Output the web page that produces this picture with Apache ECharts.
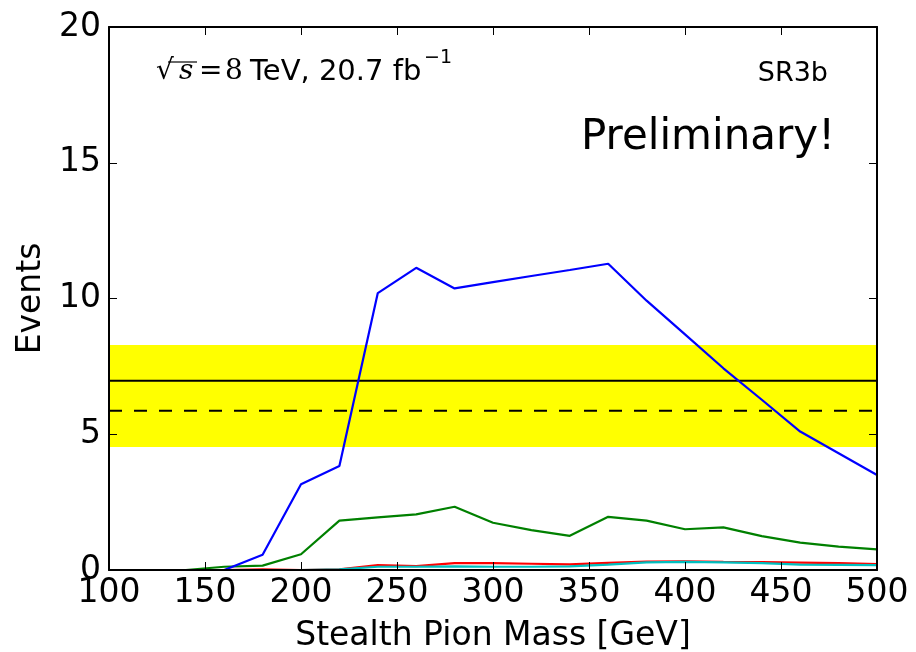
<!DOCTYPE html>
<html>
<head>
<meta charset="utf-8">
<script src="https://cdn.jsdelivr.net/npm/echarts@6/dist/echarts.min.js"></script>
<style>
  html, body { margin: 0; padding: 0; background: #ffffff; }
  #chart { width: 916px; height: 652px; }
</style>
</head>
<body>
<div id="chart"></div>
<script>
// ---- data ----
const masses = [100,120,140,160,180,200,220,240,260,280,300,320,340,360,380,400,420,440,460,480,500];
const blueVals  = [0,0,0,0,0.56,3.16,3.83,10.2,11.13,10.37,10.6,10.83,11.05,11.28,9.92,8.68,7.43,6.27,5.1,4.3,3.5];
const greenVals = [0,0,0,0.12,0.16,0.58,1.82,1.94,2.05,2.33,1.74,1.47,1.26,1.96,1.82,1.5,1.57,1.25,1.01,0.86,0.76];
const redVals   = [0,0,0,0,0.02,0,0.02,0.18,0.14,0.25,0.25,0.23,0.21,0.26,0.31,0.32,0.3,0.29,0.27,0.25,0.22];
const cyanVals  = [0,0,0,0,0,0,0.02,0.12,0.12,0.13,0.12,0.12,0.13,0.2,0.28,0.3,0.28,0.25,0.2,0.19,0.18];
const observedLimit = 6.97;
const expectedLimit = 5.87;
const bandLow = 4.53;
const bandHigh = 8.29;
const xTicks = [100,150,200,250,300,350,400,450,500];
const yTicks = [0,5,10,15,20];
const xTitle = 'Stealth Pion Mass [GeV]';
const yTitle = 'Events';
const regionLabel = 'SR3b';
const statusLabel = 'Preliminary!';
const lumiText = 'TeV, 20.7 fb';

const xMin = xTicks[0], xMax = xTicks[xTicks.length - 1];
const yMin = yTicks[0], yMax = yTicks[yTicks.length - 1];
const pairs = vals => masses.map((m, i) => [m, vals[i]]);
const hline = v => [[xMin, v], [xMax, v]];

const FONT = 'DejaVu Sans';
const SERIF = 'DejaVu Serif';
const axisLine = { show: true, onZero: false, lineStyle: { color: '#000', width: 2 } };
const axisTick = { show: true, inside: true, length: 8, lineStyle: { color: '#000', width: 1 } };

const txt = (x, str, font, size, extra) => ({
  type: 'text', x: x, y: 72, z: 100,
  style: Object.assign({ text: str, fontFamily: font, fontSize: size, fill: '#000',
    textAlign: 'left', textVerticalAlign: 'middle' }, extra || {})
});

const chart = echarts.init(document.getElementById('chart'), null, { renderer: 'canvas' });
chart.setOption({
  animation: false,
  backgroundColor: '#ffffff',
  grid: { left: 109, right: 39, top: 27, bottom: 82, containLabel: false, outerBoundsMode: 'none' },
  xAxis: [
    {
      type: 'value', min: xMin, max: xMax, interval: 50, position: 'bottom', z: 10,
      name: xTitle, nameLocation: 'middle', nameGap: 50,
      nameTextStyle: { fontFamily: FONT, fontSize: 33, color: '#000' },
      axisLine, axisTick,
      axisLabel: { fontFamily: FONT, fontSize: 33, color: '#000', margin: 7 },
      splitLine: { show: false }
    },
    {
      type: 'value', min: xMin, max: xMax, interval: 50, position: 'top', z: 10,
      axisLine, axisTick, axisLabel: { show: false }, splitLine: { show: false }
    }
  ],
  yAxis: [
    {
      type: 'value', min: yMin, max: yMax, interval: 5, position: 'left', z: 10,
      name: yTitle, nameLocation: 'middle', nameGap: 59, nameRotate: 90,
      nameTextStyle: { fontFamily: FONT, fontSize: 33, color: '#000' },
      axisLine, axisTick,
      axisLabel: { fontFamily: FONT, fontSize: 33, color: '#000', margin: 8 },
      splitLine: { show: false }
    },
    {
      type: 'value', min: yMin, max: yMax, interval: 5, position: 'right', z: 10,
      axisLine, axisTick, axisLabel: { show: false }, splitLine: { show: false }
    }
  ],
  series: [
    {
      name: 'band', type: 'line', z: 1, showSymbol: false, silent: true,
      data: hline(bandLow), lineStyle: { opacity: 0 },
      markArea: {
        silent: true,
        itemStyle: { color: '#ffff00', opacity: 1 },
        data: [[{ yAxis: bandLow }, { yAxis: bandHigh }]]
      }
    },
    {
      name: 'observed', type: 'line', z: 3, showSymbol: false,
      data: hline(observedLimit), lineStyle: { color: '#000', width: 2 }
    },
    {
      name: 'expected', type: 'line', z: 3, showSymbol: false,
      data: hline(expectedLimit), lineStyle: { color: '#000', width: 2, type: [13, 12] }
    },
    {
      name: 'green', type: 'line', z: 4, showSymbol: false,
      data: pairs(greenVals), lineStyle: { color: '#008000', width: 2.2 }
    },
    {
      name: 'red', type: 'line', z: 4, showSymbol: false,
      data: pairs(redVals), lineStyle: { color: '#ff0000', width: 2.2 }
    },
    {
      name: 'cyan', type: 'line', z: 5, showSymbol: false,
      data: pairs(cyanVals), lineStyle: { color: '#00bfbf', width: 2.2 }
    },
    {
      name: 'blue', type: 'line', z: 6, showSymbol: false,
      data: pairs(blueVals), lineStyle: { color: '#0000ff', width: 2.2 }
    }
  ],
  graphic: [
    txt(156, '√', SERIF, 28),
    {
      type: 'line', z: 100,
      shape: { x1: 168, y1: 62, x2: 197, y2: 62 },
      style: { stroke: '#000', lineWidth: 1.2 }
    },
    txt(179, 's', SERIF, 28, { fontStyle: 'italic' }),
    txt(199, '=', SERIF, 28),
    txt(225, '8', SERIF, 28),
    txt(250, lumiText, FONT, 29),
    {
      type: 'text', x: 424, y: 58, z: 100,
      style: { text: '−1', fontFamily: FONT, fontSize: 19, fill: '#000',
        textAlign: 'left', textVerticalAlign: 'middle' }
    },
    {
      type: 'text', right: 88, top: 60, z: 100,
      style: { text: regionLabel, fontFamily: FONT, fontSize: 27, fill: '#000' }
    },
    {
      type: 'text', right: 81, top: 117, z: 100,
      style: { text: statusLabel, fontFamily: FONT, fontSize: 42, fill: '#000' }
    }
  ]
});
</script>
</body>
</html>
